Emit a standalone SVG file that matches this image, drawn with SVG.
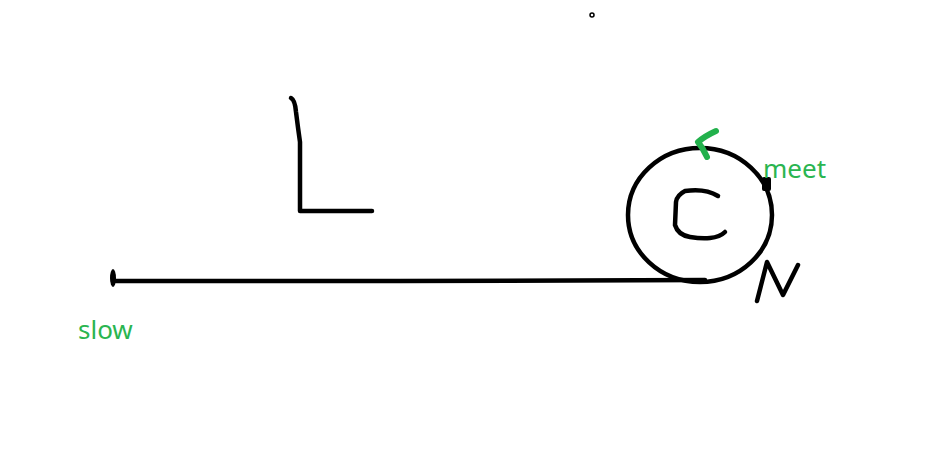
<svg xmlns="http://www.w3.org/2000/svg" width="950" height="461" viewBox="0 0 950 461">
<style>
.ink{fill:none;stroke:#000;stroke-width:4.5;stroke-linecap:round;stroke-linejoin:round}
.g{fill:none;stroke:#22b14c;stroke-width:6;stroke-linecap:round;stroke-linejoin:round}
.lbl{font-family:"Noto Sans","Open Sans",sans-serif;font-size:26px;fill:#2ab550}
</style>
<rect width="950" height="461" fill="#fff"/>
<g id="connectors">
<path class="ink" d="M113,281 L400,281 L705,280"/>
</g>
<g id="slow">
<ellipse cx="113" cy="278" rx="3" ry="9" fill="#000"/>
<text class="lbl" x="78" y="339">slow</text>
</g>
<g id="L">
<path class="ink" d="M291,98 Q295,100 296,112 Q298,128 300,142 L300,211 L372,211"/>
</g>
<g id="circle">
<ellipse class="ink" cx="700" cy="215" rx="72" ry="67"/>
<path class="ink" d="M718,196 Q705,188 685,191 Q677,195 676,202 L675,225 Q678,235 690,237 Q702,239 710,238 Q720,237 725,232"/>
</g>
<g id="meet">
<rect x="762" y="177" width="9" height="14" rx="2" fill="#000"/>
<text class="lbl" x="763" y="178">meet</text>
</g>
<g id="top-mark">
<path class="g" d="M716,131 Q705,136 698,142 Q703,148 707,157" stroke-width="6.5"/>
</g>
<g id="N">
<path class="ink" d="M757,301 L767,262 L783,295 L798,265"/>
</g>
<circle cx="592" cy="15" r="2" fill="none" stroke="#000" stroke-width="1.5"/>
</svg>
